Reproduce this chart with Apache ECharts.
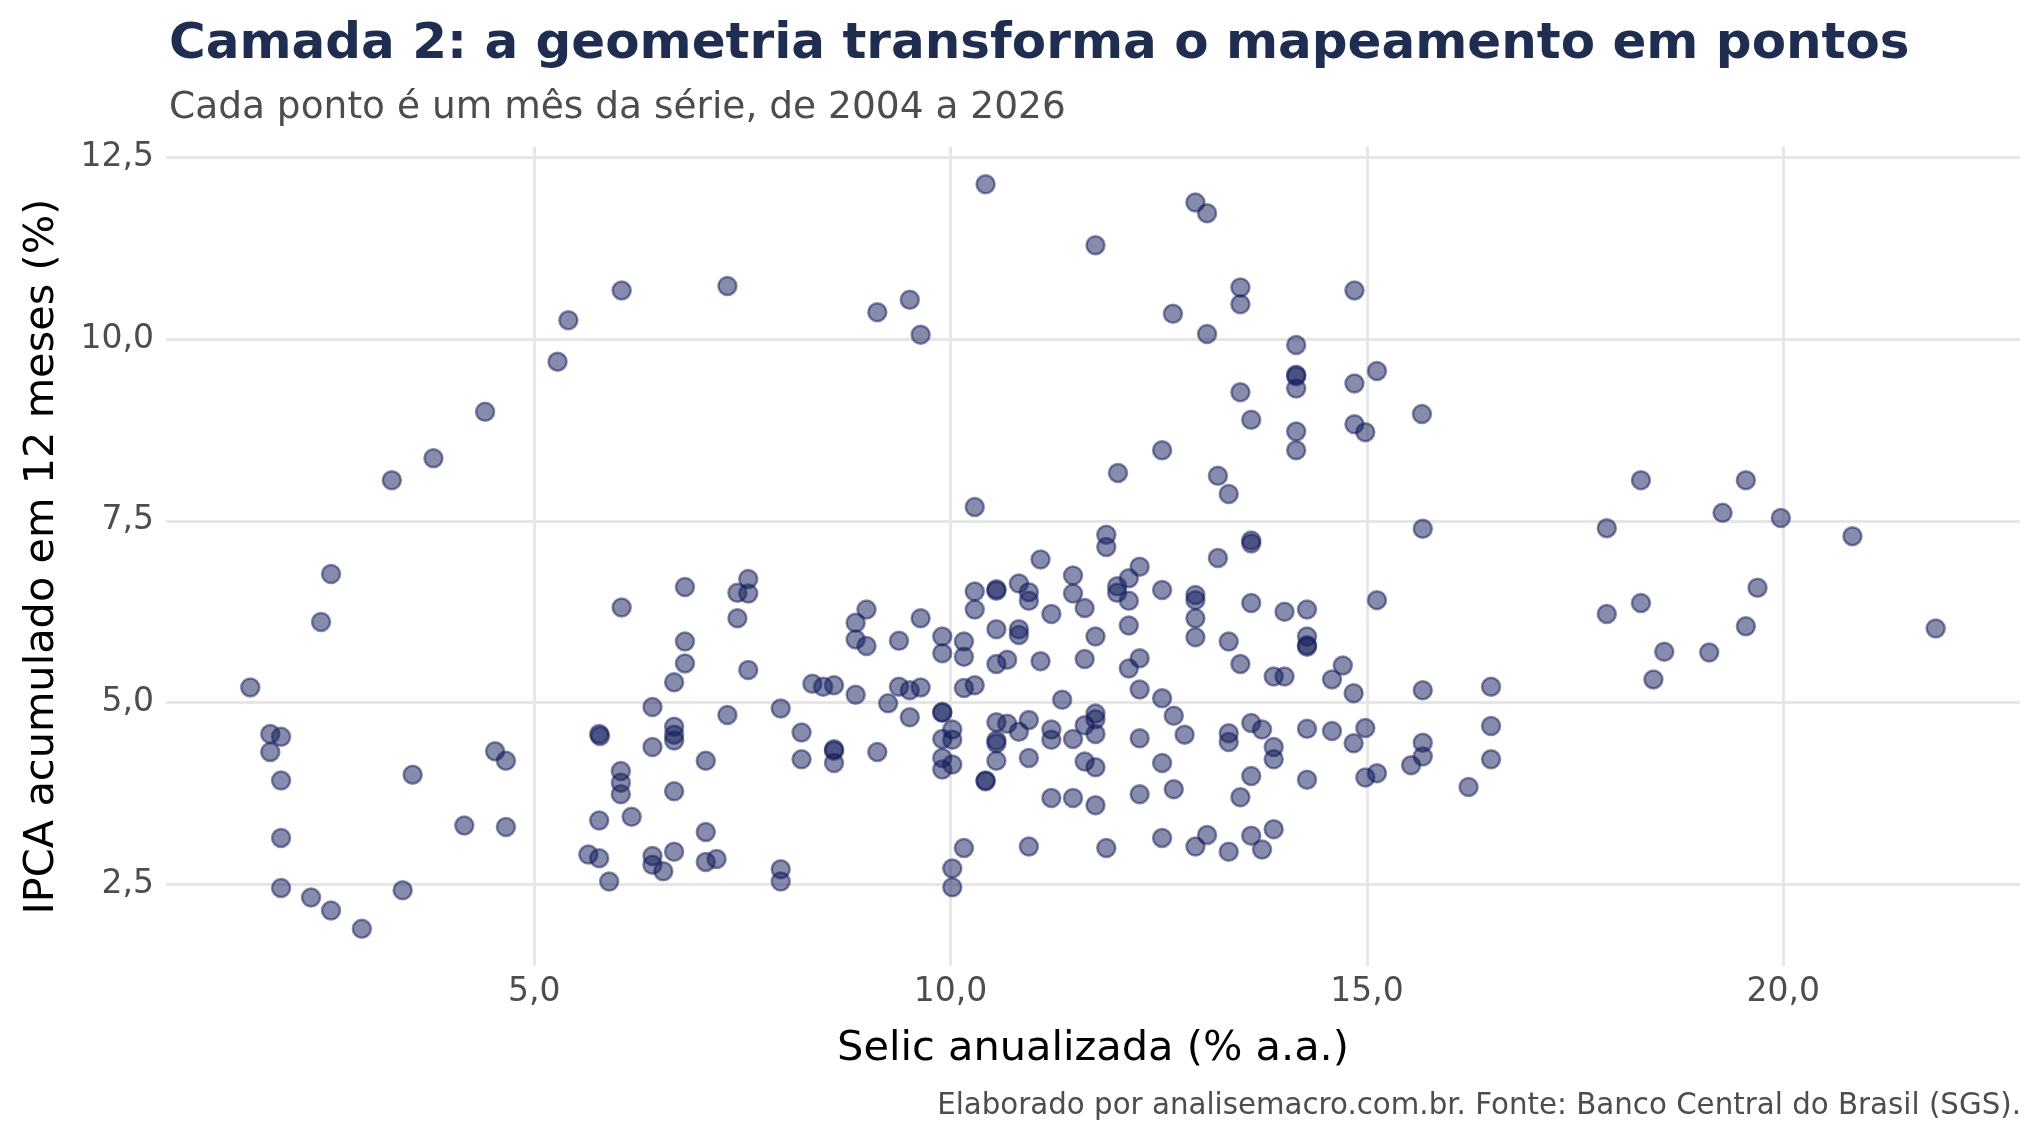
<!DOCTYPE html>
<html>
<head>
<meta charset="utf-8">
<title>Camada 2</title>
<script src="https://cdn.jsdelivr.net/npm/echarts@6/dist/echarts.min.js"></script>
<style>
	html,body{margin:0;padding:0;background:#fff;}
	#chart{width:2040px;height:1140px;}
</style>
</head>
<body>
<div id="chart"></div>
<script>
// Selic anualizada (% a.a.) - eixo x
var selic = [
	// juros baixos (2017-2022)
	5.41, 5.28, 4.41, 3.79, 3.29, 2.56, 2.44, 1.59, 1.83, 1.96, 1.83, 1.96, 1.96, 1.96, 2.32, 2.56, 2.93, 3.42, 3.54, 4.16, 4.53, 4.66, 4.66,
	5.78, 5.79, 5.78, 5.65, 5.78, 5.90,
	6.05, 7.32, 9.12, 9.51, 9.64,
	6.05, 6.81, 7.44, 7.57, 7.57, 7.44, 6.81, 6.81, 6.68, 7.57, 6.42, 7.32, 7.96,
	6.68, 6.68, 6.68, 6.42, 7.06, 6.04, 6.04, 6.04, 6.68, 6.17, 7.06,
	6.42, 6.42, 6.55, 6.68, 7.06, 7.19, 7.96, 7.96,
	// 8 a 10%
	8.34, 8.47, 8.60, 8.86, 8.99, 8.86, 8.86, 8.99, 9.38, 9.64, 9.90, 9.90, 10.16, 10.16,
	9.38, 9.51, 9.64, 9.25, 9.51, 9.90, 9.90, 10.16, 10.29,
	8.21, 8.60, 8.60, 8.60, 8.21, 9.12,
	10.02, 9.90, 10.02, 9.90, 10.02, 9.90,
	10.16, 10.02, 10.02,
	// 10 a 14,5%
	11.87, 11.87, 13.61, 13.61, 11.08, 13.21,
	10.29, 10.29, 10.55, 10.55, 10.82, 10.94, 10.94,
	11.47, 11.47, 11.61, 11.21,
	12.00, 12.00, 12.14, 12.27, 12.14, 12.54,
	12.94, 12.94, 12.94, 12.94, 13.61, 14.01, 14.28,
	14.28, 14.28, 14.28, 13.34, 13.48, 13.88, 14.01,
	10.55, 10.82, 10.82, 10.55, 10.68, 11.08, 11.61, 11.74, 12.14, 12.14, 12.27,
	11.34, 12.27, 12.54, 12.68, 12.81,
	10.55, 10.68, 10.82, 10.94, 10.55, 10.55, 11.21, 11.21, 11.47, 11.61, 11.74, 11.74, 11.74, 12.27,
	10.55, 10.94, 10.42, 10.42, 11.61, 11.74, 12.54,
	11.21, 11.47, 11.74, 12.27, 12.68,
	13.34, 13.34, 13.61, 13.74, 13.88, 13.88, 13.61, 13.48, 14.28, 14.28,
	10.94, 11.87, 12.54, 12.94, 13.08, 13.34, 13.61, 13.74, 13.88,
	// acima de 14,5%
	15.67, 17.88, 15.12, 17.88, 18.29, 18.57, 19.11, 18.44,
	14.71, 14.58, 14.84, 15.67, 16.49, 14.58, 14.98, 14.84, 15.67, 15.67, 15.53, 14.98, 15.12, 16.49, 16.49, 16.22,
	19.97, 20.83, 21.83, 19.27, 19.55, 18.29, 19.69, 19.55,
	// inflacao alta
	10.42, 12.94, 13.08, 11.74, 13.48, 13.48, 12.67, 13.08, 14.15, 14.15, 14.15, 14.15, 13.48, 13.61, 14.15, 14.15, 12.54, 12.01, 13.21, 13.34, 10.29,
	14.85, 15.12, 14.85, 15.66, 14.85, 14.98
];
// IPCA acumulado em 12 meses (%) - eixo y
var ipca = [
	10.26, 9.69, 9.00, 8.36, 8.06, 6.77, 6.11, 5.21, 4.57, 4.53, 4.32, 3.93, 3.14, 2.45, 2.32, 2.14, 1.89, 2.42, 4.01, 3.31, 4.33, 4.20, 3.29,
	4.57, 4.54, 3.38, 2.91, 2.86, 2.54,
	10.67, 10.73, 10.37, 10.54, 10.06,
	6.31, 6.59, 6.51, 6.70, 6.50, 6.16, 5.84, 5.54, 5.28, 5.45, 4.94, 4.83, 4.92,
	4.67, 4.56, 4.48, 4.39, 4.20, 4.06, 3.90, 3.74, 3.78, 3.43, 3.22,
	2.89, 2.77, 2.68, 2.95, 2.81, 2.85, 2.71, 2.54,
	5.26, 5.22, 5.24, 5.11, 6.28, 6.10, 5.87, 5.78, 5.85, 6.16, 5.91, 5.68, 5.84, 5.63,
	5.22, 5.17, 5.21, 4.99, 4.80, 4.87, 4.86, 5.20, 5.24,
	4.59, 4.36, 4.34, 4.17, 4.22, 4.32,
	4.63, 4.50, 4.49, 4.24, 4.15, 4.08,
	3.00, 2.72, 2.46,
	7.31, 7.14, 7.23, 7.19, 6.97, 6.99,
	6.53, 6.28, 6.54, 6.56, 6.64, 6.52, 6.40,
	6.75, 6.50, 6.30, 6.22,
	6.60, 6.51, 6.71, 6.87, 6.40, 6.55,
	6.48, 6.41, 6.16, 5.90, 6.37, 6.25, 6.28,
	5.91, 5.79, 5.77, 5.84, 5.53, 5.36, 5.36,
	6.01, 6.01, 5.93, 5.53, 5.59, 5.57, 5.60, 5.91, 6.06, 5.47, 5.61,
	5.04, 5.18, 5.06, 4.82, 4.56,
	4.73, 4.71, 4.60, 4.76, 4.48, 4.44, 4.63, 4.49, 4.50, 4.69, 4.85, 4.77, 4.57, 4.51,
	4.20, 4.24, 3.93, 3.92, 4.19, 4.11, 4.17,
	3.69, 3.69, 3.59, 3.74, 3.81,
	4.58, 4.46, 4.72, 4.63, 4.39, 4.22, 3.99, 3.70, 4.64, 3.94,
	3.02, 3.00, 3.14, 3.02, 3.18, 2.95, 3.17, 2.98, 3.26,
	7.39, 7.40, 6.41, 6.22, 6.37, 5.70, 5.69, 5.32,
	5.51, 5.32, 5.13, 5.17, 5.22, 4.61, 4.65, 4.44, 4.45, 4.26, 4.14, 3.97, 4.03, 4.68, 4.22, 3.84,
	7.54, 7.29, 6.02, 7.61, 8.06, 8.06, 6.58, 6.05,
	12.13, 11.88, 11.73, 11.29, 10.71, 10.48, 10.35, 10.07, 9.92, 9.51, 9.49, 9.32, 9.27, 8.89, 8.73, 8.47, 8.47, 8.16, 8.12, 7.87, 7.69,
	10.67, 9.56, 9.39, 8.97, 8.83, 8.72
];
var xTicks = [5, 10, 15, 20];
var yTicks = [2.5, 5, 7.5, 10, 12.5];

var pontos = selic.map(function (v, i) { return [v, ipca[i]]; });

// expansao de 5% como no ggplot
function faixa(arr) {
	var lo = Math.min.apply(null, arr), hi = Math.max.apply(null, arr);
	var pad = (hi - lo) * 0.05;
	return [lo - pad, hi + pad];
}
var fx = faixa(selic), fy = faixa(ipca);

function virgula(v) {
	return v.toFixed(1).replace('.', ',');
}

var gridColor = '#e6e6e6';
var fonte = 'DejaVu Sans';

var chart = echarts.init(document.getElementById('chart'));
var option = {
	animation: false,
	backgroundColor: '#ffffff',
	textStyle: { fontFamily: fonte },
	title: [{
		text: 'Camada 2: a geometria transforma o mapeamento em pontos',
		left: 164,
		top: 15,
		textStyle: { fontFamily: fonte, fontSize: 50, fontWeight: 'bold', color: '#1f2d50' }
	}, {
		text: 'Cada ponto é um mês da série, de 2004 a 2026',
		left: 164,
		top: 84,
		textStyle: { fontFamily: fonte, fontSize: 37.5, fontWeight: 'normal', color: '#4d4d4d' }
	}, {
		text: 'Elaborado por analisemacro.com.br. Fonte: Banco Central do Brasil (SGS).',
		right: 14,
		top: 1087,
		textStyle: { fontFamily: fonte, fontSize: 29.3, fontWeight: 'normal', color: '#4d4d4d' }
	}],
	grid: {
		left: 166,
		right: 20,
		top: 147,
		bottom: 174
	},
	xAxis: {
		type: 'value',
		min: fx[0],
		max: fx[1],
		name: 'Selic anualizada (% a.a.)',
		nameLocation: 'middle',
		nameGap: 62,
		nameTextStyle: { fontFamily: fonte, fontSize: 41.5, color: '#000000' },
		axisLine: { show: false },
		axisTick: { show: false, customValues: xTicks },
		axisLabel: {
			customValues: xTicks,
			formatter: virgula,
			margin: 10,
			fontFamily: fonte,
			fontSize: 33,
			color: '#4d4d4d'
		},
		splitLine: { show: true, lineStyle: { color: gridColor, width: 2.8 } }
	},
	yAxis: {
		type: 'value',
		min: fy[0],
		max: fy[1],
		name: 'IPCA acumulado em 12 meses (%)',
		nameLocation: 'middle',
		nameGap: 103,
		nameTextStyle: { fontFamily: fonte, fontSize: 41.5, color: '#000000' },
		axisLine: { show: false },
		axisTick: { show: false, customValues: yTicks },
		axisLabel: {
			customValues: yTicks,
			formatter: virgula,
			margin: 12,
			fontFamily: fonte,
			fontSize: 33,
			color: '#4d4d4d'
		},
		splitLine: { show: true, lineStyle: { color: gridColor, width: 2.8 } }
	},
	series: [{
		type: 'scatter',
		data: pontos,
		symbol: 'circle',
		symbolSize: 18,
		itemStyle: {
			color: 'rgba(15,25,90,0.5)',
			borderColor: 'rgba(15,25,90,0.5)',
			borderWidth: 2.5,
			opacity: 1
		}
	}]
};
chart.setOption(option);
</script>
</body>
</html>
